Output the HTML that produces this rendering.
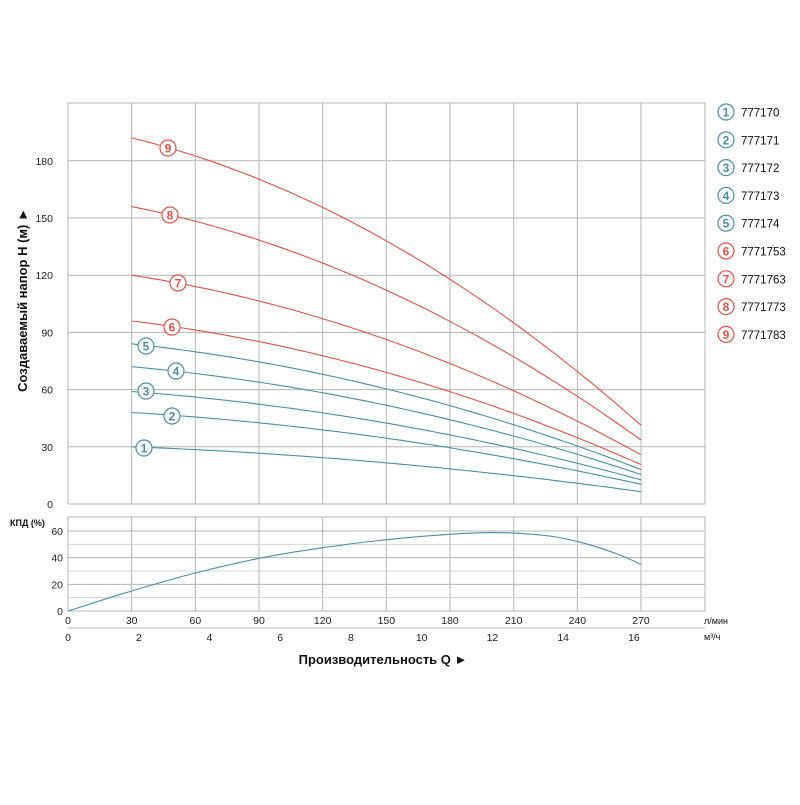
<!DOCTYPE html>
<html><head><meta charset="utf-8"><style>
body{margin:0;background:#fff}
svg text{font-family:"Liberation Sans",Arial,sans-serif}
</style></head><body>
<svg id="s" width="800" height="800" xmlns="http://www.w3.org/2000/svg">
<rect width="800" height="800" fill="#fff"/>
<g id="grid" stroke="#b5b5b5" stroke-width="1" fill="none"></g>
<g id="curves" fill="none" stroke-width="1.1"></g>
<g id="labels"></g>
<text x="0" y="0" transform="translate(27,300) rotate(-90)" text-anchor="middle" font-size="13" font-weight="bold" fill="#111">Создаваемый напор Н (м) ►</text>
<text x="10" y="526" font-size="9" font-weight="bold" fill="#111">КПД (%)</text>
<text x="383" y="664" text-anchor="middle" font-size="13" font-weight="bold" fill="#111">Производительность Q ►</text>
<text x="704" y="624" font-size="9" fill="#111">л/мин</text>
<text x="704" y="640" font-size="9" fill="#111">м³/ч</text>
</svg>
<script>
var NS="http://www.w3.org/2000/svg";
function el(p,t,a,txt){var e=document.createElementNS(NS,t);for(var k in a)e.setAttribute(k,a[k]);if(txt!==undefined)e.textContent=txt;p.appendChild(e);return e;}
var s=document.getElementById('s'),g=document.getElementById('grid'),cv=document.getElementById('curves'),lb=document.getElementById('labels');
function X(q){return 68+q*(573/270);}
function YH(h){return 504-h*(343.2/180);}
function YE(e){return 611-e*(80/60);}
// top grid
for(var q=30;q<=270;q+=30)el(g,'line',{x1:X(q),y1:103,x2:X(q),y2:504});
for(var h=30;h<=180;h+=30)el(g,'line',{x1:68,y1:YH(h),x2:705,y2:YH(h)});
el(g,'rect',{x:68,y:103,width:637,height:401});
// bottom grid
for(var q=30;q<=270;q+=30)el(g,'line',{x1:X(q),y1:517,x2:X(q),y2:611});
for(var e=10;e<=60;e+=10)el(g,'line',{x1:68,y1:YE(e),x2:705,y2:YE(e),stroke:e%20?'#d5d5d5':'#b5b5b5'});
el(g,'rect',{x:68,y:517,width:637,height:94});
el(g,'line',{x1:68,y1:628,x2:705,y2:628});
// tick labels
for(var h=0;h<=180;h+=30)el(s,'text',{x:53,y:YH(h)+4,'text-anchor':'end','font-size':10.5,fill:'#222'},h);
for(var e=0;e<=60;e+=20)el(s,'text',{x:63,y:YE(e)+4,'text-anchor':'end','font-size':10.5,fill:'#222'},e);
for(var q=0;q<=270;q+=30)el(s,'text',{x:X(q),y:624,'text-anchor':'middle','font-size':10.5,fill:'#222'},q);
for(var m=0;m<=16;m+=2)el(s,'text',{x:68+m*70.7*0.5*2/2,y:641,'text-anchor':'middle','font-size':10.5,fill:'#222'},m);
// fix m3/h positions
var ts=s.querySelectorAll('text');var mi=0;
ts.forEach(function(t){if(t.getAttribute('y')=='641'){t.setAttribute('x',68+mi*2*35.37);mi++;}});
// head curves
var teal='#4b8fa1',red='#e5524a';
var H0=[30,48,59,72,84,96,120,156,192];
var lp=[[144,448],[172,416],[146,391],[176,371],[146,346],[172,327],[178,283],[170,215],[168,148]];
function gf(q){var d=q-30;return 1-0.001415*d-7.73e-6*d*d;}
for(var i=0;i<9;i++){
 var pts=[];for(var q=30;q<=270;q+=4)pts.push(X(q).toFixed(1)+','+YH(H0[i]*gf(q)).toFixed(1));
 var c=i<5?teal:red;
 el(cv,'polyline',{points:pts.join(' '),stroke:c});
 el(lb,'circle',{cx:lp[i][0],cy:lp[i][1],r:8,fill:'#fff',stroke:c,'stroke-width':1.2});
 el(lb,'text',{x:lp[i][0],y:lp[i][1]+4.5,'text-anchor':'middle','font-size':12,'font-weight':'bold',fill:c},i+1);
 var ly=112+i*27.8;
 el(lb,'circle',{cx:726,cy:ly,r:8,fill:'#fff',stroke:c,'stroke-width':1.2});
 el(lb,'text',{x:726,y:ly+4.5,'text-anchor':'middle','font-size':12,'font-weight':'bold',fill:c},i+1);
 el(lb,'text',{x:741,y:ly+4.5,'font-size':11.5,fill:'#111'},['777170','777171','777172','777173','777174','7771753','7771763','7771773','7771783'][i]);
}
// efficiency
var E=[[0,0],[30,15],[60,28.5],[90,39.5],[120,47.5],[150,53.5],[180,57.5],[200,58.8],[215,58],[230,55.5],[245,50],[260,42],[270,35]];
var d='M'+X(0)+','+YE(0);
for(var i=0;i<E.length-1;i++){
 var p0=E[Math.max(i-1,0)],p1=E[i],p2=E[i+1],p3=E[Math.min(i+2,E.length-1)];
 var c1=[p1[0]+(p2[0]-p0[0])/6,p1[1]+(p2[1]-p0[1])/6],c2=[p2[0]-(p3[0]-p1[0])/6,p2[1]-(p3[1]-p1[1])/6];
 d+=' C'+X(c1[0])+','+YE(c1[1])+' '+X(c2[0])+','+YE(c2[1])+' '+X(p2[0])+','+YE(p2[1]);
}
el(cv,'path',{d:d,stroke:teal});
</script>
</body></html>
